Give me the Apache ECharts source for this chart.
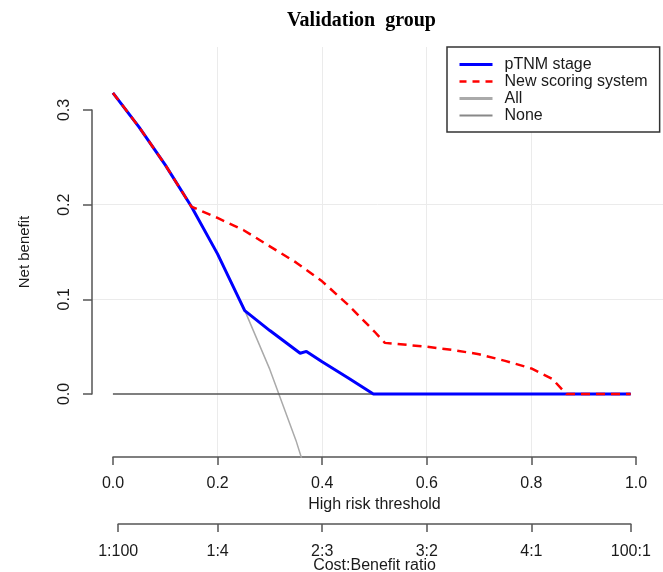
<!DOCTYPE html>
<html>
<head>
<meta charset="utf-8">
<script src="https://cdn.jsdelivr.net/npm/echarts@6/dist/echarts.min.js"></script>
<style>
html,body{margin:0;padding:0;background:#fff;}
#chart{width:663px;height:572px;}
</style>
</head>
<body>
<div id="chart"></div>
<script>
// ---- data ----
const thresholdTicks = [0, 0.2, 0.4, 0.6, 0.8, 1.0];
const netBenefitTicks = [0, 0.1, 0.2, 0.3];
const costPositions = [1/101, 0.2, 0.4, 0.6, 0.8, 100/101];
const costLabels = ['1:100', '1:4', '2:3', '3:2', '4:1', '100:1'];
const seriesNames = ['pTNM stage', 'New scoring system', 'All', 'None'];

const ptnmT  = [0, 0.05, 0.1, 0.15, 0.2, 0.252, 0.3, 0.358, 0.37, 0.4, 0.45, 0.498, 0.99];
const ptnmNB = [0.318, 0.282, 0.242, 0.198, 0.148, 0.088, 0.067, 0.043, 0.045, 0.034, 0.017, 0, 0];

const newT  = [0, 0.05, 0.1, 0.15, 0.2, 0.25, 0.3, 0.35, 0.4, 0.45, 0.5, 0.52, 0.55, 0.6, 0.65, 0.7, 0.75, 0.8, 0.84, 0.867, 0.99];
const newNB = [0.318, 0.282, 0.242, 0.198, 0.186, 0.173, 0.156, 0.139, 0.119, 0.094, 0.066, 0.054, 0.0525, 0.050, 0.0465, 0.042, 0.035, 0.027, 0.016, 0, 0];

const allT  = [0, 0.05, 0.1, 0.15, 0.2, 0.25, 0.3, 0.35, 0.4];
const allNB = [0.318, 0.282, 0.242, 0.198, 0.148, 0.091, 0.026, -0.049, -0.137];

const noneT  = [0, 0.99];
const noneNB = [0, 0];

// ---- chart ----
const pairs = (xs, ys) => xs.map((x, i) => [x, ys[i]]);
const FONT = '"Liberation Sans", Arial, Helvetica, sans-serif';
const AXIS_COLOR = '#555555';
const TEXT_COLOR = '#1a1a1a';

const chart = echarts.init(document.getElementById('chart'), null, {renderer: 'canvas'});

const hiddenSymbol = {color: 'transparent', opacity: 0, borderWidth: 0};

const option = {
  animation: false,
  backgroundColor: '#ffffff',
  title: {
    text: 'Validation  group',
    left: 287, top: 11, padding: 0,
    textStyle: {fontFamily: '"Liberation Serif", "Times New Roman", serif', fontWeight: 'bold', fontSize: 20, color: '#000'}
  },
  legend: {
    orient: 'vertical',
    left: 447, top: 47,
    padding: [9, 12, 8, 11],
    itemWidth: 33, itemHeight: 14, itemGap: 0,
    borderColor: '#333333', borderWidth: 1.5, borderRadius: 0,
    backgroundColor: '#ffffff',
    selectedMode: false,
    itemStyle: hiddenSymbol,
    textStyle: {fontFamily: FONT, fontSize: 16, lineHeight: 17, color: TEXT_COLOR, padding: [0, 0, 0, 7]},
    data: [
      {name: seriesNames[0], itemStyle: hiddenSymbol, lineStyle: {width: 3, color: '#0000ff'}},
      {name: seriesNames[1], itemStyle: hiddenSymbol, lineStyle: {width: 2.5, color: '#ff0000', type: [7, 6]}},
      {name: seriesNames[2], itemStyle: hiddenSymbol, lineStyle: {width: 3, color: '#aaaaaa'}},
      {name: seriesNames[3], itemStyle: hiddenSymbol, lineStyle: {width: 2, color: '#888888'}}
    ]
  },
  grid: [
    {left: 92, top: 47, width: 571, height: 410, outerBoundsMode: 'none', containLabel: false},
    {left: 113, top: 456, width: 523, height: 1, outerBoundsMode: 'none', containLabel: false},
    {left: 113 + 523 * costPositions[0], top: 523, width: 523 * (costPositions[5] - costPositions[0]), height: 1, outerBoundsMode: 'none', containLabel: false},
    {left: 92, top: 110, width: 1, height: 284, outerBoundsMode: 'none', containLabel: false}
  ],
  xAxis: [
    {
      gridIndex: 0, type: 'value', min: -0.04, max: -0.04 + 571 / 523,
      axisLine: {show: false}, axisLabel: {show: false},
      axisTick: {show: false, customValues: thresholdTicks},
      splitLine: {show: true, showMinLine: false, showMaxLine: false, lineStyle: {color: '#ebebeb', width: 1}}
    },
    {
      gridIndex: 1, type: 'value', min: 0, max: 1, interval: 0.2, position: 'bottom',
      axisLine: {show: true, onZero: false, lineStyle: {color: AXIS_COLOR, width: 1.5}},
      axisTick: {show: true, inside: false, length: 8, lineStyle: {color: AXIS_COLOR, width: 1.5}},
      axisLabel: {show: true, margin: 19, fontFamily: FONT, fontSize: 16, color: TEXT_COLOR,
                  formatter: v => v.toFixed(1)},
      splitLine: {show: false},
      name: 'High risk threshold', nameLocation: 'middle', nameGap: 40, nameMoveOverlap: false,
      nameTextStyle: {fontFamily: FONT, fontSize: 16, color: TEXT_COLOR}
    },
    {
      gridIndex: 2, type: 'value', min: costPositions[0], max: costPositions[5], position: 'bottom',
      axisLine: {show: true, onZero: false, lineStyle: {color: AXIS_COLOR, width: 1.5}},
      axisTick: {show: true, inside: false, length: 8, customValues: costPositions, lineStyle: {color: AXIS_COLOR, width: 1.5}},
      axisLabel: {show: true, margin: 20, fontFamily: FONT, fontSize: 16, color: TEXT_COLOR,
                  customValues: costPositions,
                  showMinLabel: true, showMaxLabel: true,
                  formatter: v => {
                    let best = 0;
                    costPositions.forEach((p, i) => { if (Math.abs(p - v) < Math.abs(costPositions[best] - v)) best = i; });
                    return costLabels[best];
                  }},
      splitLine: {show: false},
      name: 'Cost:Benefit ratio', nameLocation: 'middle', nameGap: 34, nameMoveOverlap: false,
      nameTextStyle: {fontFamily: FONT, fontSize: 16, color: TEXT_COLOR}
    },
    {gridIndex: 3, type: 'value', min: 0, max: 1, show: false}
  ],
  yAxis: [
    {
      gridIndex: 0, type: 'value', min: -(457 - 394) / 946.67, max: (394 - 47) / 946.67,
      axisLine: {show: false}, axisLabel: {show: false},
      axisTick: {show: false, customValues: netBenefitTicks},
      splitLine: {show: true, showMinLine: false, showMaxLine: false, lineStyle: {color: '#ebebeb', width: 1}}
    },
    {gridIndex: 1, type: 'value', min: 0, max: 1, show: false},
    {gridIndex: 2, type: 'value', min: 0, max: 1, show: false},
    {
      gridIndex: 3, type: 'value', min: 0, max: 0.3, interval: 0.1, position: 'left',
      axisLine: {show: true, onZero: false, lineStyle: {color: AXIS_COLOR, width: 1.5}},
      axisTick: {show: true, inside: false, length: 9, lineStyle: {color: AXIS_COLOR, width: 1.5}},
      axisLabel: {show: true, rotate: 90, margin: 19, fontFamily: FONT, fontSize: 16, color: TEXT_COLOR,
                  formatter: v => v.toFixed(1)},
      splitLine: {show: false},
      name: 'Net benefit', nameLocation: 'middle', nameGap: 60, nameRotate: 90, nameMoveOverlap: false,
      nameTextStyle: {fontFamily: FONT, fontSize: 15, color: TEXT_COLOR}
    }
  ],
  series: [
    {
      name: seriesNames[2], type: 'line', xAxisIndex: 0, yAxisIndex: 0,
      data: pairs(allT, allNB), symbol: 'none', showSymbol: false, clip: true, z: 2,
      lineStyle: {color: '#aaaaaa', width: 1.5}, itemStyle: {color: '#aaaaaa'}
    },
    {
      name: seriesNames[3], type: 'line', xAxisIndex: 0, yAxisIndex: 0,
      data: pairs(noneT, noneNB), symbol: 'none', showSymbol: false, clip: true, z: 3,
      lineStyle: {color: '#555555', width: 1.5}, itemStyle: {color: '#555555'}
    },
    {
      name: seriesNames[0], type: 'line', xAxisIndex: 0, yAxisIndex: 0,
      data: pairs(ptnmT, ptnmNB), symbol: 'none', showSymbol: false, clip: true, z: 4,
      lineStyle: {color: '#0000ff', width: 3}, itemStyle: {color: '#0000ff'}
    },
    {
      name: seriesNames[1], type: 'line', xAxisIndex: 0, yAxisIndex: 0,
      data: pairs(newT, newNB), symbol: 'none', showSymbol: false, clip: true, z: 5,
      lineStyle: {color: '#ff0000', width: 2.5, type: [9, 6]}, itemStyle: {color: '#ff0000'}
    }
  ]
};
chart.setOption(option);
</script>
</body>
</html>
